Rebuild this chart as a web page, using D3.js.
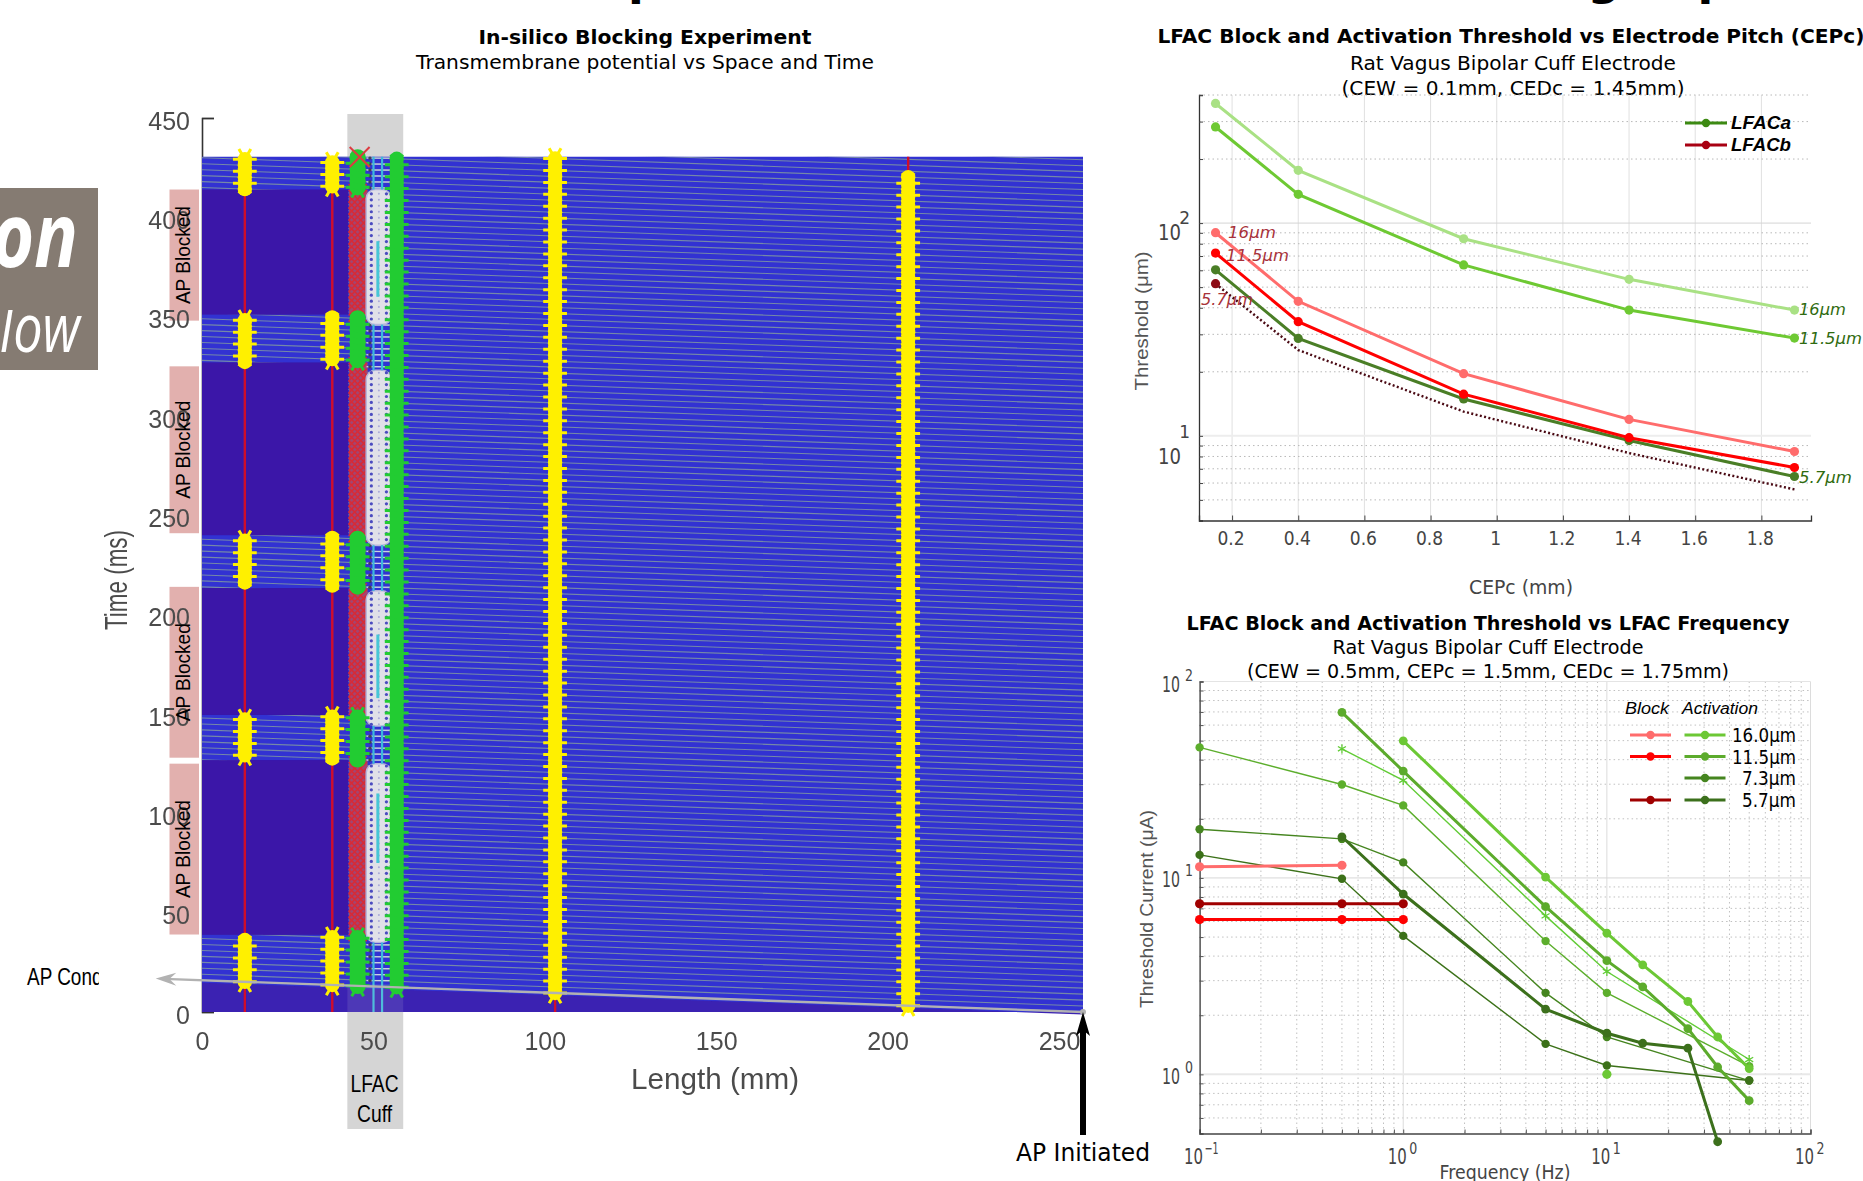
<!DOCTYPE html>
<html>
<head>
<meta charset="utf-8">
<style>
  html, body { margin: 0; padding: 0; background: #fff; overflow: hidden; }
  text { font-family: "DejaVu Sans", sans-serif; }
  .helv { font-family: "Liberation Sans", sans-serif; }
</style>
<script src="https://cdn.jsdelivr.net/npm/d3@7/dist/d3.min.js"></script>
</head>
<body>
<svg id="fig" width="1863" height="1181"></svg>
<script>
// Space-time plot: electrode positions (mm) and AP times (ms)
const lengthTicks = [0, 50, 100, 150, 200, 250];
const timeTicks = [0, 50, 100, 150, 200, 250, 300, 350, 400, 450];
const apTimes = [
  0, 3, 6, 9, 12, 15, 18, 21, 24, 27, 30, 33, 36, 39, 42, 45, 48, 51, 54, 57, 60, 63, 66, 69,
  72, 75, 78, 81, 84, 87, 90, 93, 96, 99, 102, 105, 108, 111, 114, 117, 120, 123, 126, 129, 132, 135,
  138, 141, 144, 147, 150, 153, 156, 159, 162, 165, 168, 171, 174, 177, 180, 183, 186, 189, 192, 195,
  198, 201, 204, 207, 210, 213, 216, 219, 222, 225, 228, 231, 234, 237, 240, 243, 246, 249, 252, 255,
  258, 261, 264, 267, 270, 273, 276, 279, 282, 285, 288, 291, 294, 297, 300, 303, 306, 309, 312, 315,
  318, 321, 324, 327, 330, 333, 336, 339, 342, 345, 348, 351, 354, 357, 360, 363, 366, 369, 372, 375,
  378, 381, 384, 387, 390, 393, 396, 399, 402, 405, 408, 411, 414, 417, 420, 423, 426, 429
];
const nodeColumnsYellow = [12.5, 38, 103, 206];
const conductionDelay = 0.0622; // ms per mm, slope of the AP fronts
const blockBands = [[38.8, 126.8], [149.5, 213.4], [240, 327], [351, 414]];
const cuffSpans = [[35, 125], [144, 212], [235, 323], [346, 414]];
const cuffCoreSpans = [[75, 110], [158, 190], [360, 388]];
const blockLabelBoxes = [[39, 125], [128, 214], [241, 325], [348, 414]];

// LFAC threshold vs electrode pitch
const cepTicks = [0.2, 0.4, 0.6, 0.8, 1, 1.2, 1.4, 1.6, 1.8];
const cepValues = [0.15, 0.4, 0.9, 1.4, 1.9];
const lfacA16 = [365, 177, 84.4, 54.4, 39];
const lfacA115 = [283, 136.5, 63.6, 39, 28.8];
const lfacA57 = [60.3, 28.7, 14.9, 9.5, 6.44];
const lfacB16 = [90.1, 42.9, 19.6, 11.95, 8.44];
const lfacB115 = [72.3, 34.4, 15.7, 9.8, 7.1];
const lfacB57 = [51.9, 25.3, 13, 8.3, 5.6];
const pitchMinorY = [5, 6, 7, 8, 9, 20, 30, 40, 50, 60, 70, 80, 90, 200, 300, 400];

// LFAC threshold vs frequency
const decades = [0.1, 1, 10, 100];
const freqMinorX = [0.2, 0.3, 0.4, 0.5, 0.6, 0.7, 0.8, 0.9, 2, 3, 4, 5, 6, 7, 8, 9, 20, 30, 40, 50, 60, 70, 80, 90];
const freqMinorY = [0.6, 0.7, 0.8, 0.9, 2, 3, 4, 5, 6, 7, 8, 9, 20, 30, 40, 50, 60, 70, 80, 90];
const actThinA = { f: [0.1, 0.5, 1, 5, 10, 50], v: [46.2, 29.9, 23.4, 4.77, 2.6, 1.1] };
const actThinB = { f: [0.1, 0.5, 1, 5, 10, 50], v: [17.7, 15.8, 12, 2.6, 1.55, 0.93] };
const actThinC = { f: [0.1, 0.5, 1, 5, 10, 50], v: [13.1, 9.9, 5.07, 1.43, 1.11, 0.93] };
const actStar = { f: [0.5, 1, 5, 10, 50], v: [45.4, 31.4, 6.41, 3.34, 1.19] };
const act16 = { f: [1, 5, 10, 15, 25, 35, 50], v: [49.9, 10.1, 5.23, 3.61, 2.35, 1.55, 1.07] };
const act115 = { f: [0.5, 1, 5, 10, 15, 25, 35, 50], v: [69.7, 35, 7.14, 3.79, 2.79, 1.71, 1.09, 0.735] };
const act57 = { f: [0.5, 1, 5, 10, 15, 25, 35], v: [16.2, 8.28, 2.15, 1.62, 1.44, 1.36, 0.454] };
const block16 = { f: [0.1, 0.5], v: [11.4, 11.6] };
const block115 = { f: [0.1, 0.5, 1], v: [6.14, 6.14, 6.14] };
const block57 = { f: [0.1, 0.5, 1], v: [7.39, 7.39, 7.39] };
const loneFreq = [10];
const loneValue = [1.0];

const svg = d3.select("#fig");

// Left panel comes from a compressed bitmap, so it gets a slight blur
const defs = svg.append("defs");
defs.append("filter").attr("id", "soft").append("feGaussianBlur").attr("stdDeviation", 0.6);
defs.append("filter").attr("id", "softText").append("feGaussianBlur").attr("stdDeviation", 0.45);

// Text helper, fit squeezes the string into a measured width like the source figure
function put(parent, str, x, y, o = {}) {
    const t = parent.append("text")
        .attr("x", x).attr("y", y)
        .attr("font-size", o.size || 18)
        .attr("font-weight", o.weight || "normal")
        .attr("font-style", o.style || "normal")
        .attr("text-anchor", o.anchor || "middle")
        .attr("dominant-baseline", o.base || "middle")
        .attr("fill", o.fill || "#000")
        .text(str);
    if (o.helv) t.attr("class", "helv");
    if (o.family) t.style("font-family", o.family);
    if (o.fit) t.attr("textLength", o.fit).attr("lengthAdjust", "spacingAndGlyphs");
    if (o.rotate) t.attr("transform", `rotate(${o.rotate} ${x} ${y})`);
    return t;
}

// ---------- left panel ----------
function drawSpaceTime() {
    const g = svg.append("g");
    const x = d3.scaleLinear().domain([0, 257]).range([202, 1083]);
    const y = d3.scaleLinear().domain([0, 450]).range([1012, 118]);
    const tAt = (t0, mm) => t0 + (257 - mm) * conductionDelay;
    const topMs = 430.5;

    // cut off heading
    put(g, "Experiment", 567, -6, { size: 46, weight: "bold", anchor: "start", base: "auto" });
    put(g, "Blocking Experiment", 1934, -6, { size: 46, weight: "bold", anchor: "end", base: "auto" });

    put(g, "In-silico Blocking Experiment", 645, 38, { size: 19.5, weight: "bold", fit: 333 });
    put(g, "Transmembrane potential vs Space and Time", 645, 63, { size: 19.5, fit: 458 });

    // LFAC cuff backdrop
    g.append("rect").attr("x", x(42.4)).attr("y", 114).attr("width", x(58.7) - x(42.4)).attr("height", 1129 - 114).attr("fill", "#d5d5d5");

    // AP blocked tags
    g.selectAll(".tag").data(blockLabelBoxes).join("rect")
        .attr("x", 169.5).attr("width", 29.5)
        .attr("y", (d) => y(d[1])).attr("height", (d) => y(d[0]) - y(d[1]))
        .attr("fill", "#e2b0ae");

    // Axes
    const yAxis = g.append("g").attr("transform", "translate(202,0)")
        .call(d3.axisLeft(y).tickValues(timeTicks).tickSize(-12).tickPadding(12).tickFormat(d3.format("d")));
    yAxis.select(".domain").attr("stroke", "#333").attr("stroke-width", 1.6);
    yAxis.selectAll("line").attr("stroke", "#333").attr("stroke-width", 1.4);
    yAxis.selectAll("text").attr("font-size", 25).attr("fill", "#4c4c4c").attr("class", "helv").attr("dy", "0.44em").attr("filter", "url(#softText)");
    const xAxis = g.append("g").attr("transform", "translate(0,1012)")
        .call(d3.axisBottom(x).tickValues(lengthTicks).tickSize(0).tickPadding(20).tickFormat(d3.format("d")));
    xAxis.select(".domain").remove();
    xAxis.selectAll("text").attr("font-size", 25).attr("fill", "#4c4c4c").attr("class", "helv").attr("filter", "url(#softText)");
    put(g, "Length (mm)", 715, 1081, { size: 29, fill: "#4c4c4c", helv: true, fit: 168 }).attr("filter", "url(#softText)");
    put(g, "Time (ms)", 119, 580, { size: 32, fill: "#4c4c4c", helv: true, rotate: -90, fit: 100 }).attr("filter", "url(#softText)");

    // Heat field, blurred as a whole
    svg.append("clipPath").attr("id", "heatClip").append("rect")
        .attr("x", x(0)).attr("y", y(topMs)).attr("width", x(257) - x(0)).attr("height", y(0) - y(topMs));
    const h = g.append("g").attr("filter", "url(#soft)");
    h.append("rect").attr("x", x(0)).attr("y", y(topMs)).attr("width", x(257) - x(0)).attr("height", y(0) - y(topMs)).attr("fill", "#3232d2");

    // AP fronts
    h.append("g").attr("clip-path", "url(#heatClip)").selectAll("line").data(apTimes).join("line")
        .attr("x1", x(0)).attr("x2", x(257))
        .attr("y1", (d) => y(tAt(d, 0))).attr("y2", (d) => y(tAt(d, 257)))
        .attr("stroke", "#7488a8").attr("stroke-width", 1.1);

    // Quiet zone under the first front
    const frontArea = d3.area().x((d) => x(d)).y0(y(0)).y1((d) => y(tAt(-1.2, d)));
    h.append("path").datum([0, 257]).attr("d", frontArea).attr("fill", "#3a20b2");

    // Blocked bands, left of the cuff
    h.selectAll(".band").data(blockBands).join("rect")
        .attr("x", x(0)).attr("width", x(42.7) - x(0))
        .attr("y", (d) => y(d[1])).attr("height", (d) => y(d[0]) - y(d[1]))
        .attr("fill", "#3a18a8");

    // Red node traces
    h.append("g").selectAll("line").data(nodeColumnsYellow).join("line")
        .attr("x1", (d) => x(d)).attr("x2", (d) => x(d))
        .attr("y1", y(topMs)).attr("y2", y(0))
        .attr("stroke", "#d0102c").attr("stroke-width", 2.4);

    const inBand = (t) => blockBands.some((b) => t >= b[0] && t <= b[1]);
    const inCuff = (t) => cuffSpans.some((b) => t >= b[0] && t <= b[1]);
    const asterisk = d3.symbol().type(d3.symbolAsterisk).size(400);
    const cross = d3.symbol().type(d3.symbolTimes).size(215);

    // Block site: red lattice
    h.selectAll(".lattice").data(blockBands).join("rect")
        .attr("x", x(42.9)).attr("width", x(48.3) - x(42.9))
        .attr("y", (d) => y(d[1])).attr("height", (d) => y(d[0]) - y(d[1]))
        .attr("fill", "#a5446f");
    h.append("g").selectAll("path").data(apTimes.filter((t) => inBand(tAt(t, 45.4)))).join("path")
        .attr("d", cross)
        .attr("transform", (d) => `translate(${x(45.4)},${y(tAt(d, 45.4))})`)
        .attr("fill", "none").attr("stroke", "#d82c36").attr("stroke-width", 1.5);
    g.append("path").attr("d", d3.symbol().type(d3.symbolTimes).size(260))
        .attr("transform", `translate(${x(45.4) + 2},157)`)
        .attr("fill", "none").attr("stroke", "#dc3b40").attr("stroke-width", 2);

    // Cuff: open windows between capsules
    const openTimes = apTimes.filter((t) => !inCuff(tAt(t, 51)) && tAt(t, 51) < topMs);
    h.append("g").selectAll("line").data(openTimes).join("line")
        .attr("x1", x(48)).attr("x2", x(55))
        .attr("y1", (d) => y(tAt(d, 51))).attr("y2", (d) => y(tAt(d, 51)))
        .attr("stroke", "#c9d2e2").attr("stroke-width", 1.3);
    h.append("g").selectAll("circle").data(openTimes.filter((t) => t > 0)).join("circle")
        .attr("cx", x(49)).attr("cy", (d) => y(tAt(d, 51)))
        .attr("r", 1.7).attr("fill", "#3c4058");

    // Cuff: capsules with dot lattice
    h.selectAll(".capsule").data(cuffSpans).join("rect")
        .attr("x", x(47.9)).attr("width", x(55.2) - x(47.9))
        .attr("y", (d) => y(d[1])).attr("height", (d) => y(d[0]) - y(d[1]))
        .attr("rx", 9).attr("fill", "#e0e0e8").attr("stroke", "#b7b7dc").attr("stroke-width", 1.5);
    [49.4, 51.6, 53.8].forEach((mm, i) => {
        h.append("g").selectAll("circle").data(apTimes.filter((t) => inCuff(tAt(t, 51)))).join("circle")
            .attr("cx", x(mm)).attr("cy", (d) => y(tAt(d, 51)))
            .attr("r", i === 1 ? 1 : 1.6).attr("fill", i === 1 ? "#a9a9d8" : "#4b4bc0");
    });

    // Cuff electrodes in cyan
    const closed = [[-2, cuffSpans[0][0]], [cuffSpans[0][1], cuffSpans[1][0]], [cuffSpans[1][1], cuffSpans[2][0]],
        [cuffSpans[2][1], cuffSpans[3][0]], [cuffSpans[3][1], topMs]];
    [50, 52.5].forEach((mm) => {
        h.append("g").selectAll("rect").data(closed).join("rect")
            .attr("x", x(mm) - 1).attr("width", 2.2)
            .attr("y", (d) => y(d[1])).attr("height", (d) => y(Math.max(d[0], 0)) - y(d[1]))
            .attr("fill", "#3cb8dc");
    });
    h.selectAll(".core").data(cuffCoreSpans).join("rect")
        .attr("x", x(51.3) - 1.5).attr("width", 3)
        .attr("y", (d) => y(d[1])).attr("height", (d) => y(d[0]) - y(d[1]))
        .attr("fill", "#46c6d6");

    // Grey veil where the cuff overlaps the quiet zone
    h.append("rect").attr("x", x(42.4)).attr("width", x(58.7) - x(42.4))
        .attr("y", y(14)).attr("height", y(0) - y(14))
        .attr("fill", "#d5d5d5").attr("opacity", 0.13);

    // Star markers at node crossings, spikes on every other front so the edge stays jagged
    function nodeStars(mm, color, core, keep) {
        const times = apTimes.filter((t) => tAt(t, mm) < topMs && keep(tAt(t, mm)));
        const col = h.append("g");
        col.selectAll("path").data(times.filter((t, i) => i % 2 === 0)).join("path")
            .attr("d", asterisk)
            .attr("transform", (d) => `translate(${x(mm)},${y(tAt(d, mm))}) rotate(90)`)
            .attr("fill", "none").attr("stroke", color).attr("stroke-width", 3);
        col.selectAll("circle").data(times).join("circle")
            .attr("cx", x(mm)).attr("cy", (d) => y(tAt(d, mm)))
            .attr("r", core).attr("fill", color);
    }
    nodeStars(12.5, "#fff000", 7.2, (t) => !inBand(t));
    nodeStars(38, "#fff000", 7.2, (t) => !inBand(t));
    nodeStars(103, "#fff000", 7.2, () => true);
    nodeStars(206, "#fff000", 7.2, (t) => t < 421);
    nodeStars(45.4, "#22cc33", 8.2, (t) => !inBand(t));
    nodeStars(56.8, "#22cc33", 7.2, () => true);

    // Conduction front with its arrow
    const frontLine = d3.line().x((d) => x(d)).y((d) => y(tAt(0, d)));
    g.append("path").datum([257, -11]).attr("d", frontLine).attr("fill", "none").attr("stroke", "#b2b2b2").attr("stroke-width", 2.4);
    g.append("path").attr("d", d3.line()([[x(-13.5), y(tAt(0, -13.5))], [x(-7.5), y(tAt(0, -7.5)) - 6.5], [x(-9.5), y(tAt(0, -9.5))], [x(-7.5), y(tAt(0, -7.5)) + 6.5]]) + "Z").attr("fill", "#b2b2b2");
    g.append("circle").attr("cx", x(257)).attr("cy", y(0)).attr("r", 3).attr("fill", "#b2b2b2");

    // AP Conduction label clipped by a white mask on its right side
    svg.append("clipPath").attr("id", "apClip").append("rect").attr("x", 0).attr("y", 950).attr("width", 99).attr("height", 60);
    put(g, "AP Conduction", 27, 979, { size: 24, anchor: "start", helv: true, fit: 126 }).attr("clip-path", "url(#apClip)");

    // Labels over the picture
    put(g, "LFAC", 374.5, 1086, { size: 24, helv: true, fit: 48 });
    put(g, "Cuff", 374.5, 1116, { size: 24, helv: true, fit: 35 });
    blockLabelBoxes.forEach((d) => {
        put(g, "AP Blocked", 184, (y(d[0]) + y(d[1])) / 2, { size: 21, helv: true, rotate: -90, fit: 98 });
    });

    // AP Initiated arrow
    g.append("line").attr("x1", 1083).attr("x2", 1083).attr("y1", 1135).attr("y2", 1028).attr("stroke", "#000").attr("stroke-width", 6);
    g.append("path").attr("d", d3.line()([[1083, 1012], [1090, 1036], [1083, 1030], [1076, 1036]]) + "Z").attr("fill", "#000");
    put(g, "AP Initiated", 1083, 1154, { size: 24, fit: 134 });

    // Clipped brown callout
    g.append("rect").attr("x", 0).attr("y", 188).attr("width", 98).attr("height", 182).attr("fill", "#857b72");
    svg.append("clipPath").attr("id", "lowClip").append("rect").attr("x", 0).attr("y", 310).attr("width", 98).attr("height", 60);
    put(g, "on", 78, 267, { size: 90, weight: "bold", style: "italic", anchor: "end", base: "auto", fill: "#fff", family: "Open Sans", fit: 86 });
    put(g, "low", 80, 352, { size: 68, style: "italic", anchor: "end", base: "auto", fill: "#fff", family: "Open Sans", fit: 80 }).attr("clip-path", "url(#lowClip)");
}

// ---------- top right panel ----------
function drawPitch() {
    const g = svg.append("g");
    const x = d3.scaleLinear().domain([0.1, 1.95]).range([1199, 1811]);
    const y = d3.scaleLog().domain([4, 400]).range([520.5, 95]);

    put(g, "LFAC Block and Activation Threshold vs Electrode Pitch (CEPc)", 1511, 37, { size: 20, weight: "bold", fit: 707 });
    put(g, "Rat Vagus Bipolar Cuff Electrode", 1513, 64, { size: 20, fit: 326 });
    put(g, "(CEW = 0.1mm, CEDc = 1.45mm)", 1513, 89, { size: 20, fit: 343 });

    g.append("g").selectAll("line").data(cepTicks).join("line")
        .attr("x1", (d) => x(d)).attr("x2", (d) => x(d)).attr("y1", y(400)).attr("y2", y(4))
        .attr("stroke", "#e0e0e0");
    g.append("g").selectAll("line").data(pitchMinorY).join("line")
        .attr("x1", x(0.1)).attr("x2", x(1.95)).attr("y1", (d) => y(d)).attr("y2", (d) => y(d))
        .attr("stroke", "#b8b8b8").attr("stroke-dasharray", "1.5 3");
    g.append("line").attr("x1", x(0.1)).attr("x2", x(1.95)).attr("y1", y(100)).attr("y2", y(100)).attr("stroke", "#d4d4d4");
    g.append("line").attr("x1", x(0.1)).attr("x2", x(1.95)).attr("y1", y(10)).attr("y2", y(10)).attr("stroke", "#ededed").attr("stroke-width", 2);

    const xAxis = g.append("g").attr("transform", "translate(0,520.5)")
        .call(d3.axisBottom(x).tickValues(cepTicks).tickSize(-5).tickPadding(11).tickFormat((d) => d));
    const yAxis = g.append("g").attr("transform", "translate(1199,0)")
        .call(d3.axisLeft(y).tickValues(pitchMinorY.concat([10, 100])).tickSize(-4).tickFormat(""));
    [xAxis, yAxis].forEach((a) => {
        a.select(".domain").attr("stroke", "#333").attr("stroke-width", 1.3);
        a.selectAll("line").attr("stroke", "#444");
    });
    xAxis.selectAll("text").attr("font-size", 19).attr("fill", "#444").attr("dx", -1.5).style("font-stretch", "condensed");

    put(g, "10", 1181, 233.5, { size: 21, anchor: "end", fill: "#444", fit: 23 });
    put(g, "2", 1190, 219, { size: 17, anchor: "end", fill: "#444" });
    put(g, "1", 1190, 433, { size: 17, anchor: "end", fill: "#444" });
    put(g, "10", 1181, 458, { size: 21, anchor: "end", fill: "#444", fit: 23 });
    put(g, "Threshold (\u03bcm)", 1143, 321, { size: 19, fill: "#555", helv: true, rotate: -90, fit: 139 });
    put(g, "CEPc (mm)", 1521, 588, { size: 19, fill: "#444", fit: 104 });

    const line = d3.line().x((d, i) => x(cepValues[i])).y((d) => y(d));
    const series = [
        [lfacB57, "#4a0a14", null],
        [lfacA16, "#a9e184", "#a9e184"],
        [lfacA115, "#6ec933", "#6ec933"],
        [lfacA57, "#4a7e26", "#4a7e26"],
        [lfacB16, "#ff6c6c", "#ff6c6c"],
        [lfacB115, "#ff0000", "#ff0000"]
    ];
    series.forEach(([vals, color, dot]) => {
        g.append("path").datum(vals).attr("d", line).attr("fill", "none").attr("stroke", color)
            .attr("stroke-width", dot ? 3 : 2.4).attr("stroke-dasharray", dot ? null : "2 2.4");
        if (dot) {
            g.append("g").selectAll("circle").data(vals).join("circle")
                .attr("cx", (d, i) => x(cepValues[i])).attr("cy", (d) => y(d)).attr("r", 4.6).attr("fill", dot);
        }
    });
    g.append("circle").attr("cx", x(cepValues[0])).attr("cy", y(lfacB57[0])).attr("r", 4.6).attr("fill", "#8c0a14");

    const red = "#a8323a", grn = "#2f6b10";
    put(g, "16\u03bcm", 1228, 233, { size: 16.5, style: "italic", anchor: "start", fill: red, fit: 48 });
    put(g, "11.5\u03bcm", 1226, 256, { size: 16.5, style: "italic", anchor: "start", fill: red, fit: 63 });
    put(g, "5.7\u03bcm", 1201, 300, { size: 16.5, style: "italic", anchor: "start", fill: red, fit: 52 });
    put(g, "16\u03bcm", 1799, 310.5, { size: 16.5, style: "italic", anchor: "start", fill: grn, fit: 47 });
    put(g, "11.5\u03bcm", 1799, 339.5, { size: 16.5, style: "italic", anchor: "start", fill: grn, fit: 63 });
    put(g, "5.7\u03bcm", 1799, 478.5, { size: 16.5, style: "italic", anchor: "start", fill: grn, fit: 53 });

    [["LFACa", 123, "#3c8a12"], ["LFACb", 145, "#a80012"]].forEach(([name, ly, color]) => {
        g.append("line").attr("x1", 1685).attr("x2", 1727).attr("y1", ly).attr("y2", ly).attr("stroke", color).attr("stroke-width", 2.8);
        g.append("circle").attr("cx", 1706).attr("cy", ly).attr("r", 4.2).attr("fill", color);
        put(g, name, 1731, ly + 1.5, { size: 18, weight: "bold", style: "italic", anchor: "start", helv: true, fit: 60 });
    });
}

// ---------- bottom right panel ----------
function drawFrequency() {
    const g = svg.append("g");
    const x = d3.scaleLog().domain([0.1, 100]).range([1199.6, 1810.5]);
    const y = d3.scaleLog().domain([0.5, 100]).range([1133.5, 681.5]);

    put(g, "LFAC Block and Activation Threshold vs LFAC Frequency", 1488, 624, { size: 20, weight: "bold", fit: 603 });
    put(g, "Rat Vagus Bipolar Cuff Electrode", 1488, 648, { size: 20, fit: 311 });
    put(g, "(CEW = 0.5mm, CEPc = 1.5mm, CEDc = 1.75mm)", 1488, 672, { size: 20, fit: 482 });

    g.append("g").selectAll("line").data(freqMinorX).join("line")
        .attr("x1", (d) => x(d)).attr("x2", (d) => x(d)).attr("y1", y(100)).attr("y2", y(0.5))
        .attr("stroke", "#c0c0c0").attr("stroke-dasharray", "1.5 3");
    g.append("g").selectAll("line").data(freqMinorY).join("line")
        .attr("x1", x(0.1)).attr("x2", x(100)).attr("y1", (d) => y(d)).attr("y2", (d) => y(d))
        .attr("stroke", "#c0c0c0").attr("stroke-dasharray", "1.5 3");
    g.append("g").selectAll("line").data(decades.slice(1)).join("line")
        .attr("x1", (d) => x(d)).attr("x2", (d) => x(d)).attr("y1", y(100)).attr("y2", y(0.5))
        .attr("stroke", "#dcdcdc");
    g.append("line").attr("x1", x(0.1)).attr("x2", x(100)).attr("y1", y(10)).attr("y2", y(10)).attr("stroke", "#d8d8d8");
    g.append("line").attr("x1", x(0.1)).attr("x2", x(100)).attr("y1", y(1)).attr("y2", y(1)).attr("stroke", "#e8e8e8").attr("stroke-width", 2);
    g.append("line").attr("x1", x(0.1)).attr("x2", x(100)).attr("y1", y(100)).attr("y2", y(100)).attr("stroke", "#e4e4e4");

    const xAxis = g.append("g").attr("transform", "translate(0,1133.5)")
        .call(d3.axisBottom(x).tickValues(decades.concat(freqMinorX)).tickSize(-4).tickFormat(""));
    const yAxis = g.append("g").attr("transform", "translate(1199.6,0)")
        .call(d3.axisLeft(y).tickValues(freqMinorY.concat([1, 10, 100])).tickSize(-4).tickFormat(""));
    [xAxis, yAxis].forEach((a) => {
        a.select(".domain").attr("stroke", "#444").attr("stroke-width", 1.4);
        a.selectAll("line").attr("stroke", "#555");
    });

    decades.forEach((d) => {
        const exp = Math.round(Math.log10(d));
        put(g, "10", x(d) - 6, 1158, { size: 22, fill: "#444", fit: 19 });
        put(g, String(exp).replace("-", "\u2212"), x(d) + (exp < 0 ? 12 : 10), 1149, { size: 16, fill: "#444", fit: exp < 0 ? 14 : 8 });
    });
    [[100, 686], [10, 881], [1, 1078]].forEach(([d, ly]) => {
        const exp = Math.round(Math.log10(d));
        put(g, "10", 1171, ly, { size: 22, fill: "#444", fit: 18 });
        put(g, String(exp), 1189, ly - 10, { size: 16, fill: "#444", fit: 8 });
    });
    put(g, "Frequency (Hz)", 1505, 1173, { size: 20, fill: "#444", fit: 131 });
    put(g, "Threshold Current (\u03bcA)", 1148, 909, { size: 19, fill: "#555", helv: true, rotate: -90, fit: 198 });

    const path = d3.line().x((d) => x(d[0])).y((d) => y(d[1]));
    const star = d3.symbol().type(d3.symbolAsterisk).size(60);
    function trace(s, color, width, r, starred) {
        const pts = s.f.map((f, i) => [f, s.v[i]]);
        g.append("path").datum(pts).attr("d", path).attr("fill", "none").attr("stroke", color).attr("stroke-width", width);
        if (starred) {
            g.append("g").selectAll("path").data(pts).join("path").attr("d", star)
                .attr("transform", (d) => `translate(${x(d[0])},${y(d[1])})`)
                .attr("fill", "none").attr("stroke", color).attr("stroke-width", 1.3);
        } else {
            g.append("g").selectAll("circle").data(pts).join("circle")
                .attr("cx", (d) => x(d[0])).attr("cy", (d) => y(d[1])).attr("r", r).attr("fill", color);
        }
    }
    trace(actThinA, "#5cae2c", 1.4, 4.2);
    trace(actStar, "#62cc36", 1.4, 4.2, true);
    trace(actThinB, "#45851f", 1.4, 4.2);
    trace(actThinC, "#3c7119", 1.4, 4.2);
    trace(act115, "#5cab2c", 3, 4.4);
    trace(act16, "#6cc835", 3, 4.4);
    trace(act57, "#3c701c", 3, 4.4);
    trace(block16, "#ff6c6c", 3, 4.6);
    trace(block115, "#ff0000", 3, 4.6);
    trace(block57, "#a00000", 3, 4.6);
    g.selectAll(".lone").data(loneFreq).join("circle")
        .attr("cx", (d) => x(d)).attr("cy", (d, i) => y(loneValue[i])).attr("r", 4.6).attr("fill", "#6cc835");

    // Legend
    put(g, "Block", 1647, 710, { size: 16, style: "italic", helv: true, fit: 44 });
    put(g, "Activation", 1720, 710, { size: 16, style: "italic", helv: true, fit: 76 });
    const rows = [
        ["16.0", 735, "#ff6c6c", "#6cc835", 64],
        ["11.5", 756.5, "#ff0000", "#5cab2c", 64],
        ["7.3", 778, null, "#45851f", 54],
        ["5.7", 800, "#a00000", "#3c701c", 54]
    ];
    rows.forEach(([lab, ly, blockColor, actColor, w]) => {
        [[1630, blockColor], [1684.5, actColor]].forEach(([lx, color]) => {
            if (!color) return;
            g.append("line").attr("x1", lx).attr("x2", lx + 41).attr("y1", ly).attr("y2", ly).attr("stroke", color).attr("stroke-width", 2.8);
            g.append("circle").attr("cx", lx + 20.5).attr("cy", ly).attr("r", 4.2).attr("fill", color);
        });
        put(g, lab + "\u03bcm", 1796, ly + 1.5, { size: 19, anchor: "end", fit: w });
    });
}

drawSpaceTime();
drawPitch();
drawFrequency();
</script>
</body>
</html>
